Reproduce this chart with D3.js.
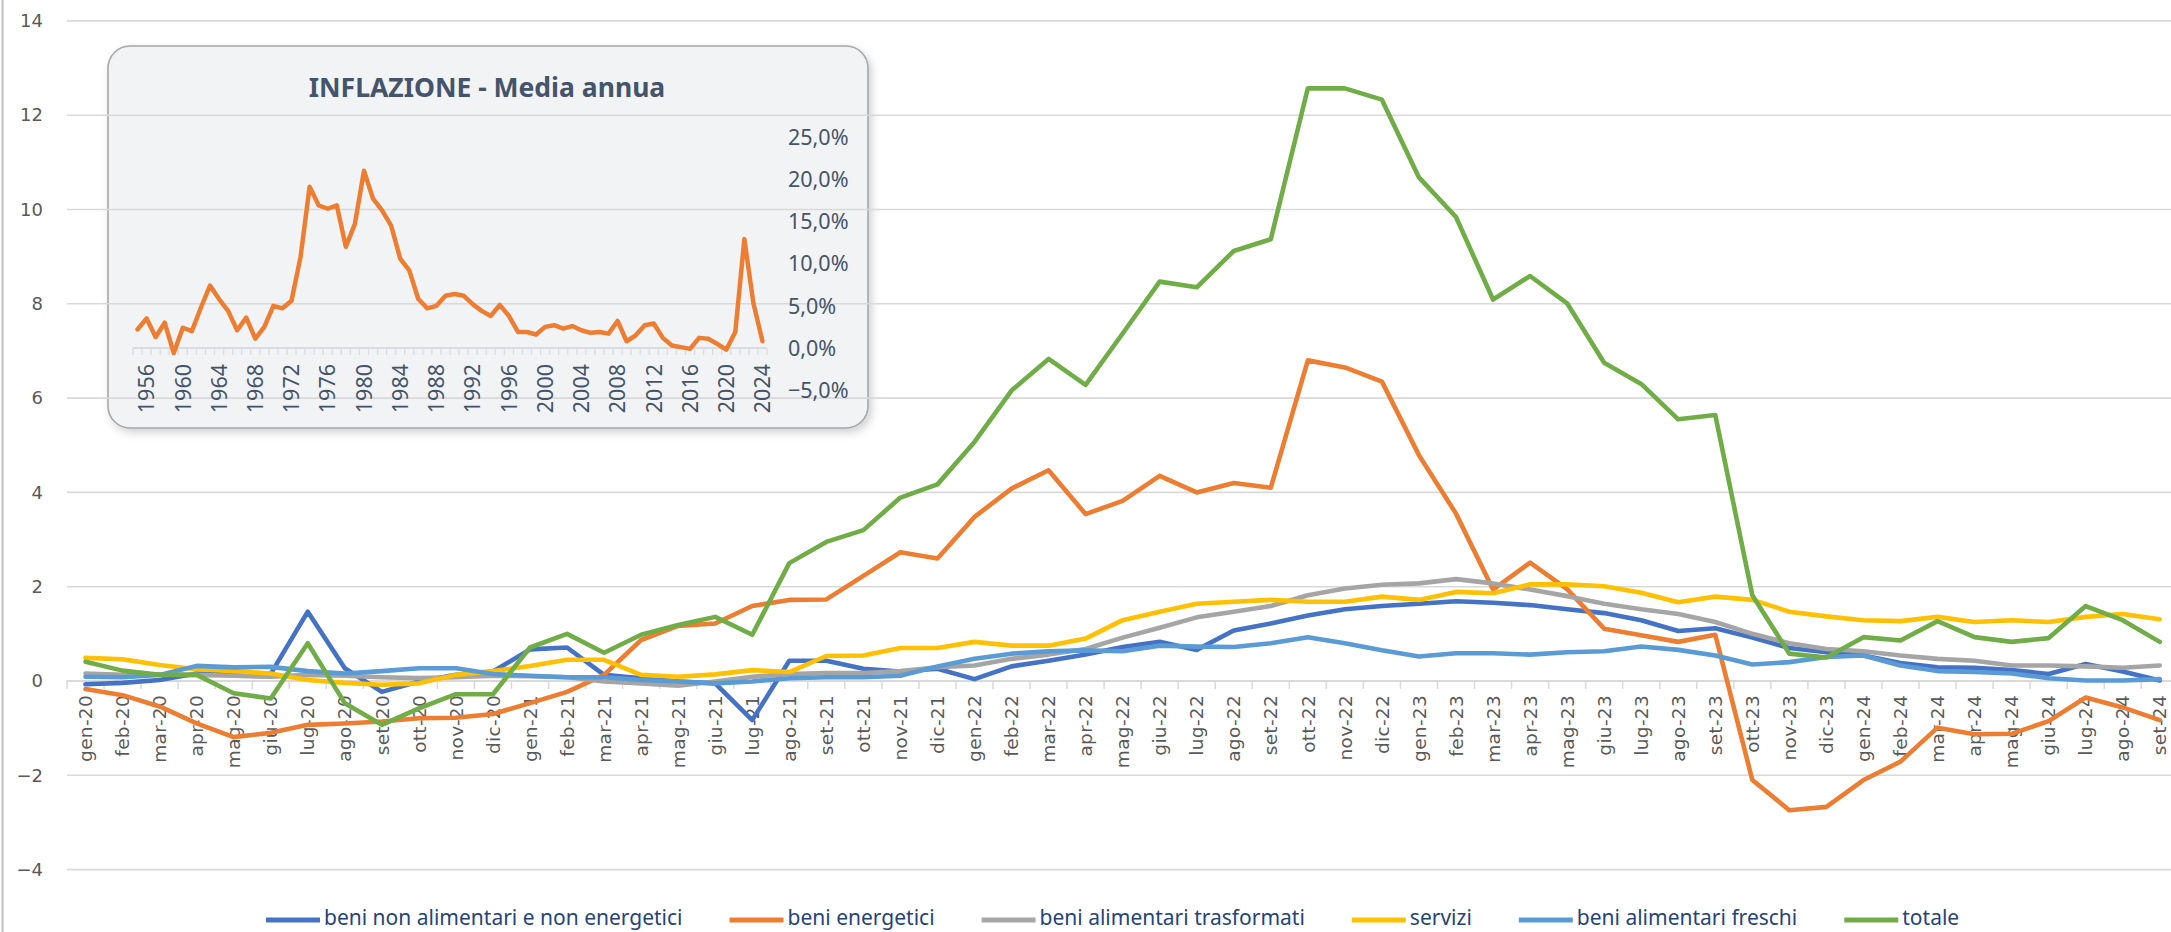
<!DOCTYPE html>
<html>
<head>
<meta charset="utf-8">
<script src="https://cdn.jsdelivr.net/npm/d3@7"></script>
<style>
  body { margin: 0; background: #fff; }
  svg { display: block; }
</style>
</head>
<body>
<script>
// categories (monthly, gen-20 .. set-24)
var months = ["gen-20","feb-20","mar-20","apr-20","mag-20","giu-20","lug-20","ago-20","set-20","ott-20","nov-20","dic-20",
  "gen-21","feb-21","mar-21","apr-21","mag-21","giu-21","lug-21","ago-21","set-21","ott-21","nov-21","dic-21",
  "gen-22","feb-22","mar-22","apr-22","mag-22","giu-22","lug-22","ago-22","set-22","ott-22","nov-22","dic-22",
  "gen-23","feb-23","mar-23","apr-23","mag-23","giu-23","lug-23","ago-23","set-23","ott-23","nov-23","dic-23",
  "gen-24","feb-24","mar-24","apr-24","mag-24","giu-24","lug-24","ago-24","set-24"]

var nonAlimentari = [-0.07,-0.04,0.02,0.16,0.13,0.15,1.47,0.27,-0.23,-0.01,0.13,0.2,0.67,0.71,0.13,0.06,-0.01,-0.05,-0.83,
  0.43,0.43,0.26,0.2,0.26,0.04,0.31,0.43,0.56,0.72,0.83,0.66,1.07,1.22,1.39,1.52,1.59,1.64,1.69,1.66,1.61,1.52,1.44,
  1.29,1.06,1.12,0.92,0.7,0.61,0.54,0.38,0.29,0.28,0.23,0.15,0.36,0.2,0.01]
var energetici = [-0.17,-0.3,-0.54,-0.9,-1.19,-1.1,-0.93,-0.9,-0.86,-0.79,-0.78,-0.7,-0.47,-0.23,0.13,0.87,1.17,1.22,1.59,
  1.72,1.73,2.23,2.73,2.6,3.48,4.08,4.47,3.54,3.82,4.35,4.0,4.2,4.1,6.8,6.65,6.35,4.79,3.55,1.94,2.51,1.95,1.11,
  0.97,0.83,0.98,-2.1,-2.74,-2.67,-2.1,-1.71,-0.99,-1.13,-1.12,-0.85,-0.35,-0.56,-0.83]
var trasformati = [0.16,0.13,0.14,0.13,0.11,0.09,0.13,0.11,0.08,0.06,0.08,0.11,0.1,0.08,-0.01,-0.05,-0.1,-0.01,0.09,
  0.15,0.17,0.17,0.21,0.29,0.33,0.47,0.56,0.68,0.92,1.13,1.35,1.47,1.59,1.82,1.96,2.04,2.07,2.16,2.07,1.94,1.8,1.64,
  1.52,1.42,1.25,1.0,0.8,0.68,0.63,0.54,0.47,0.43,0.33,0.33,0.31,0.28,0.33]
var servizi = [0.49,0.46,0.34,0.25,0.21,0.16,0.02,-0.04,-0.08,-0.05,0.13,0.21,0.32,0.45,0.45,0.13,0.09,0.14,0.23,
  0.19,0.53,0.54,0.7,0.7,0.83,0.75,0.75,0.9,1.29,1.47,1.64,1.68,1.72,1.68,1.68,1.79,1.72,1.89,1.86,2.05,2.05,2.01,
  1.87,1.67,1.79,1.72,1.47,1.37,1.29,1.27,1.36,1.25,1.29,1.25,1.36,1.42,1.31]
var freschi = [0.09,0.08,0.13,0.32,0.29,0.3,0.21,0.16,0.21,0.27,0.27,0.15,0.11,0.08,0.08,0.02,-0.01,-0.05,-0.01,
  0.06,0.08,0.08,0.11,0.31,0.47,0.58,0.63,0.65,0.63,0.75,0.73,0.72,0.8,0.93,0.8,0.65,0.52,0.59,0.59,0.56,0.61,0.63,
  0.73,0.66,0.54,0.35,0.4,0.51,0.54,0.33,0.21,0.19,0.16,0.06,0.01,0.01,0.04]
var totale = [0.41,0.22,0.13,0.13,-0.26,-0.37,0.8,-0.47,-0.93,-0.58,-0.28,-0.28,0.71,1.0,0.6,0.98,1.19,1.36,0.98,
  2.5,2.95,3.2,3.89,4.17,5.07,6.16,6.83,6.28,7.37,8.47,8.35,9.12,9.37,12.57,12.57,12.33,10.68,9.84,8.09,8.59,8.01,6.75,
  6.3,5.55,5.64,1.82,0.58,0.5,0.93,0.86,1.27,0.93,0.83,0.91,1.59,1.29,0.83]

var seriesNames = ["beni non alimentari e non energetici","beni energetici","beni alimentari trasformati","servizi","beni alimentari freschi","totale"]
var seriesValues = [nonAlimentari, energetici, trasformati, servizi, freschi, totale]
var seriesColors = ["#4472c4","#ed7d31","#a5a5a5","#ffc000","#5b9bd5","#70ad47"]
var yTicks = [-4,-2,0,2,4,6,8,10,12,14]

// inset: annual average inflation 1955 .. 2024
var years = d3.range(1955, 2025)
var inflazioneAnnua = [2.2,3.5,1.3,3.0,-0.6,2.4,2.0,4.8,7.4,5.8,4.4,2.1,3.6,1.1,2.5,5.0,4.7,5.6,10.8,19.1,
  16.9,16.5,16.9,12.0,14.7,21.0,17.7,16.3,14.5,10.6,9.2,5.8,4.7,5.0,6.2,6.4,6.2,5.2,4.4,3.8,
  5.1,3.8,1.9,1.9,1.6,2.5,2.7,2.3,2.6,2.1,1.8,1.9,1.7,3.2,0.8,1.5,2.7,2.9,1.2,0.3,
  0.1,-0.1,1.2,1.1,0.5,-0.2,1.9,12.9,5.3,0.8]
var insetYearLabels = [1956,1960,1964,1968,1972,1976,1980,1984,1988,1992,1996,2000,2004,2008,2012,2016,2020,2024]
var insetYTicks = [-5,0,5,10,15,20,25]

var W = 2171, H = 932
var svg = d3.select("body").append("svg")
    .attr("width", W)
    .attr("height", H)

svg.append("rect").attr("width", W).attr("height", H).attr("fill", "#fff")
// chart frame left edge
svg.append("line").attr("x1", 2.5).attr("x2", 2.5).attr("y1", 0).attr("y2", H)
    .attr("stroke", "#bfbfbf").attr("stroke-width", 2)

// scales
var xScale = d3.scaleBand().domain(months).range([67, 67 + 37.04 * months.length])
var yScale = d3.scaleLinear().domain([-4, 14]).range([869.6, 20.9])
var bw = xScale.bandwidth()

// ---- inset box (drawn first so the grid shows through) ----
var defs = svg.append("defs")
var f = defs.append("filter").attr("id", "shadow").attr("x", "-10%").attr("y", "-10%").attr("width", "130%").attr("height", "130%")
f.append("feDropShadow").attr("dx", 3).attr("dy", 4).attr("stdDeviation", 4).attr("flood-color", "#000").attr("flood-opacity", 0.18)

svg.append("rect")
    .attr("x", 108).attr("y", 46).attr("width", 760).attr("height", 382).attr("rx", 22)
    .attr("fill", "#f2f3f5").attr("stroke", "#a6a6a6").attr("stroke-width", 1.6)
    .attr("filter", "url(#shadow)")

// ---- gridlines ----
svg.append("g")
    .selectAll("line")
    .data(yTicks.filter(d => d !== 0))
    .join("line")
        .attr("x1", xScale.range()[0]).attr("x2", W)
        .attr("y1", d => yScale(d)).attr("y2", d => yScale(d))
        .attr("stroke", "#d9d9d9").attr("stroke-width", 1.6)

// y axis labels
svg.append("g")
    .attr("transform", `translate(${xScale.range()[0]},0)`)
    .call(d3.axisLeft(yScale).tickValues(yTicks).tickSize(0).tickPadding(24))
    .call(g => g.select(".domain").remove())
    .selectAll("text")
        .attr("font-family", "DejaVu Sans")
        .attr("font-size", 18)
        .attr("fill", "#595959")

// zero axis with tick marks between categories
var y0 = yScale(0)
var axisG = svg.append("g")
axisG.append("line").attr("x1", xScale.range()[0]).attr("x2", W).attr("y1", y0).attr("y2", y0)
    .attr("stroke", "#d9d9d9").attr("stroke-width", 2)
axisG.selectAll(".tk")
    .data(months)
    .join("line")
        .attr("class", "tk")
        .attr("x1", d => xScale(d)).attr("x2", d => xScale(d))
        .attr("y1", y0).attr("y2", y0 + 8)
        .attr("stroke", "#d9d9d9").attr("stroke-width", 1.5)

svg.append("g")
    .attr("transform", `translate(0,${y0})`)
    .call(d3.axisBottom(xScale).tickSize(0))
    .call(g => g.select(".domain").remove())
    .selectAll("text")
        .attr("transform", "rotate(-90)")
        .attr("x", -14)
        .attr("y", 0)
        .attr("dy", "0.36em")
        .attr("text-anchor", "end")
        .attr("font-family", "DejaVu Sans")
        .attr("font-size", 18.5)
        .attr("letter-spacing", 0.3)
        .attr("fill", "#595959")

// ---- inset contents ----
var xi = d3.scaleBand().domain(years).range([133, 767])
var yi = d3.scaleLinear().domain([-5, 25]).range([390.2, 137])
var pct = d3.formatLocale({decimal: ",", thousands: ".", grouping: [3], currency: ["", "€"]}).format(".1f")
var inset = svg.append("g").attr("font-family", "'Noto Sans', 'Open Sans', sans-serif")

inset.append("text")
    .attr("x", 487).attr("y", 96.5)
    .attr("text-anchor", "middle")
    .attr("font-size", 26.5).attr("font-weight", "bold")
    .attr("fill", "#44546a")
    .text("INFLAZIONE - Media annua")

var yi0 = yi(0)
inset.append("line").attr("x1", xi.range()[0]).attr("x2", xi.range()[1]).attr("y1", yi0).attr("y2", yi0)
    .attr("stroke", "#d9dce1").attr("stroke-width", 2)
inset.append("g").selectAll("line")
    .data(years.concat([null]))
    .join("line")
        .attr("x1", (d, i) => xi.range()[0] + i * xi.bandwidth())
        .attr("x2", (d, i) => xi.range()[0] + i * xi.bandwidth())
        .attr("y1", yi0).attr("y2", yi0 + 7)
        .attr("stroke", "#d9dce1").attr("stroke-width", 1.3)

inset.append("g").selectAll("text")
    .data(insetYearLabels)
    .join("text")
        .attr("transform", d => `translate(${xi(d) + xi.bandwidth() / 2},${yi0 + 16}) rotate(-90)`)
        .attr("dy", "0.36em")
        .attr("text-anchor", "end")
        .attr("font-size", 21.5)
        .attr("fill", "#44546a")
        .text(d => d)

inset.append("g").selectAll("text")
    .data(insetYTicks)
    .join("text")
        .attr("x", 788)
        .attr("y", d => yi(d))
        .attr("dy", "0.36em")
        .attr("font-size", 21.5)
        .attr("fill", "#44546a")
        .text(d => pct(d) + "%")

inset.append("path")
    .datum(inflazioneAnnua)
    .attr("fill", "none")
    .attr("stroke", "#ed7d31")
    .attr("stroke-width", 4.5)
    .attr("stroke-linejoin", "round")
    .attr("stroke-linecap", "round")
    .attr("d", d3.line().x((d, i) => xi(years[i]) + xi.bandwidth() / 2).y(d => yi(d)))

// ---- main series ----
var line = d3.line()
    .x((d, i) => xScale(months[i]) + bw / 2)
    .y(d => yScale(d))

svg.append("g")
    .selectAll("path")
    .data(seriesValues)
    .join("path")
        .attr("fill", "none")
        .attr("stroke", (d, i) => seriesColors[i])
        .attr("stroke-width", 4.6)
        .attr("stroke-linejoin", "round")
        .attr("stroke-linecap", "round")
        .attr("d", line)

// ---- legend ----
var legend = svg.append("g")
    .attr("font-family", "'Noto Sans', 'Open Sans', sans-serif")
    .attr("font-size", 21)
var lx = 266, ly = 918
seriesNames.forEach((name, i) => {
    var it = legend.append("g").attr("transform", `translate(${lx},${ly})`)
    it.append("line").attr("x1", 0).attr("x2", 54).attr("y1", 2).attr("y2", 2)
        .attr("stroke", seriesColors[i]).attr("stroke-width", 5)
    var t = it.append("text").attr("x", 58).attr("dy", "0.32em").attr("fill", "#264478").text(name)
    lx += 58 + t.node().getComputedTextLength() + 47
})
</script>
</body>
</html>
